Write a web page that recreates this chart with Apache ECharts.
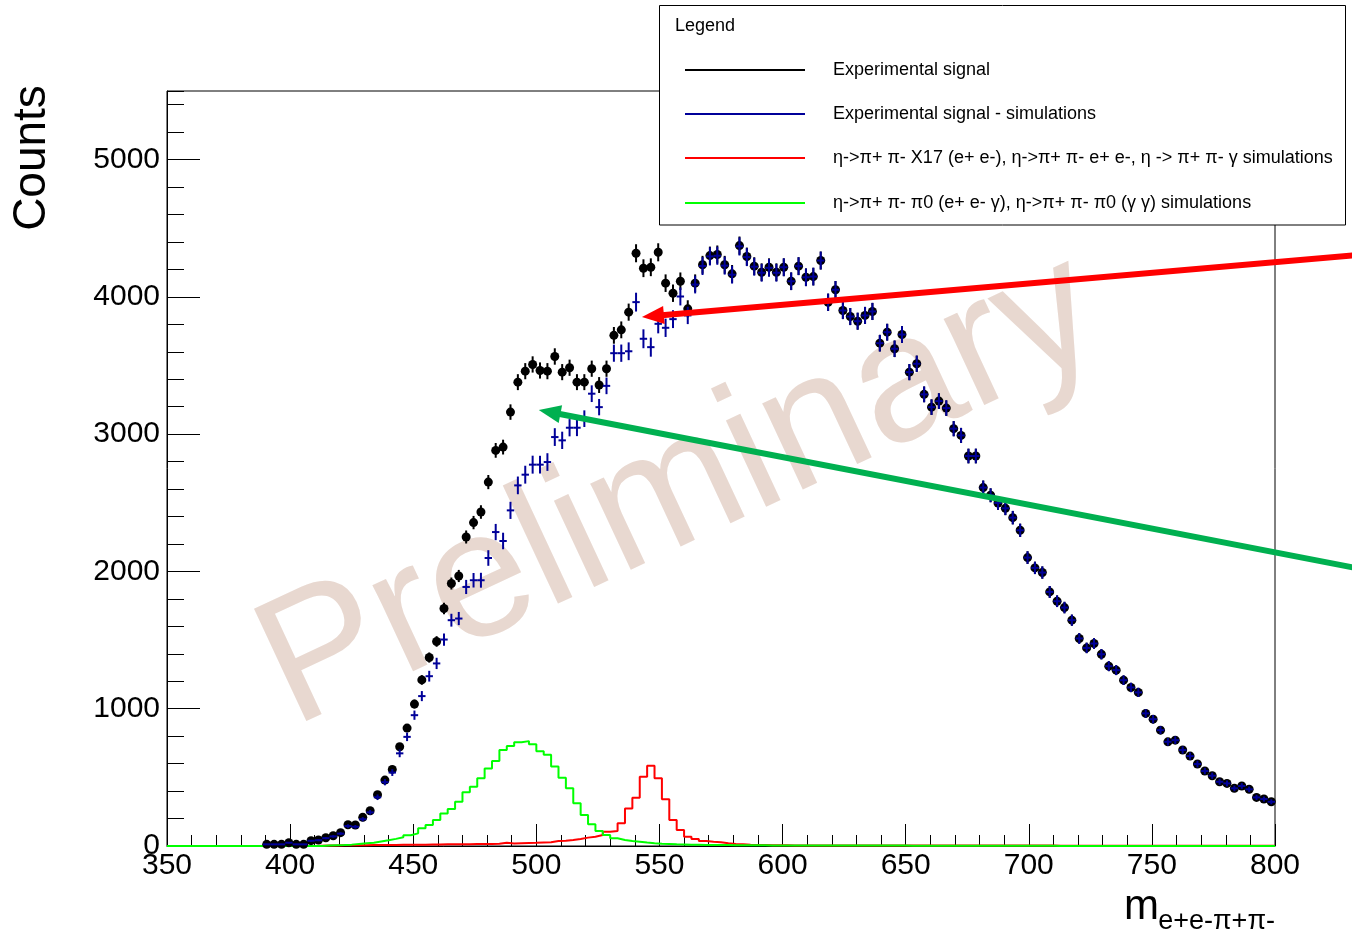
<!DOCTYPE html>
<html>
<head>
<meta charset="utf-8">
<title>m(e+e-π+π-) spectrum</title>
<script src="https://cdn.jsdelivr.net/npm/echarts@6/dist/echarts.min.js"></script>
<style>
  html, body { margin: 0; padding: 0; background: #ffffff; }
  #chart { width: 1352px; height: 937px; }
</style>
</head>
<body>
<div id="chart"></div>
<script>
// ---- binning ----
const BIN_WIDTH = 3;               // MeV per bin
const DATA_FIRST_CENTER = 390.5;   // centre of the first filled data bin
const SIM_FIRST_EDGE = 350;        // low edge of the first simulation bin
const X_RANGE = [350, 800];
const Y_RANGE = [0, 5500];

// ---- measured counts per bin (centres 390.5 ... 798.5) ----
const experimental = [
  12, 12, 12, 24, 12, 12, 39, 44, 60, 75,
  97, 155, 153, 209, 257, 373, 480, 558, 723, 859,
  1034, 1210, 1373, 1490, 1730, 1912, 1967, 2251, 2356, 2433,
  2651, 2882, 2906, 3161, 3379, 3459, 3508, 3464, 3459, 3566,
  3452, 3484, 3379, 3379, 3477, 3358, 3477, 3720, 3760, 3889,
  4318, 4209, 4216, 4325, 4100, 4027, 4114, 3913, 4100, 4234,
  4301, 4309, 4234, 4168, 4374, 4294, 4224, 4180, 4216, 4180,
  4216, 4114, 4224, 4143, 4148, 4265, 3961, 4052, 3901, 3857,
  3823, 3865, 3894, 3663, 3743, 3622, 3726, 3452, 3513, 3290,
  3197, 3241, 3190, 3040, 2991, 2841, 2841, 2611, 2555, 2499,
  2460, 2392, 2300, 2101, 2026, 1992, 1851, 1783, 1737, 1645,
  1512, 1443, 1475, 1397, 1310, 1281, 1208, 1155, 1119, 966,
  924, 844, 759, 771, 699, 655, 597, 546, 512, 468,
  456, 420, 437, 413, 354, 342, 322
];

// ---- measured counts minus simulated backgrounds (same bins) ----
const expMinusSim = [
  12, 12, 12, 24, 12, 12, 38, 42, 57, 70,
  90, 145, 140, 195, 245, 355, 465, 535, 675, 795,
  953, 1092, 1237, 1330, 1504, 1645, 1657, 1887, 1936, 1936,
  2098, 2287, 2222, 2445, 2627, 2705, 2778, 2778, 2797, 2979,
  2955, 3047, 3047, 3113, 3295, 3197, 3352, 3590, 3590, 3604,
  3962, 3695, 3634, 3804, 3775, 3838, 4003, 3865, 4090, 4225,
  4295, 4300, 4228, 4162, 4368, 4290, 4220, 4176, 4212, 4176,
  4216, 4114, 4224, 4143, 4148, 4265, 3961, 4052, 3901, 3857,
  3823, 3865, 3894, 3663, 3743, 3622, 3726, 3452, 3513, 3290,
  3197, 3241, 3190, 3040, 2991, 2841, 2841, 2611, 2555, 2499,
  2460, 2392, 2300, 2101, 2026, 1992, 1851, 1783, 1737, 1645,
  1512, 1443, 1475, 1397, 1310, 1281, 1208, 1155, 1119, 966,
  924, 844, 759, 771, 699, 655, 597, 546, 512, 468,
  456, 420, 437, 413, 354, 342, 322
];

// ---- simulated X17 / e+e- / γ channels (bins from 350, width 3) ----
const simX17 = [
  0, 0, 0, 0, 0, 0, 0, 0, 0, 0,
  0, 0, 0, 0, 0, 0, 0, 0, 0, 0,
  2, 3, 4, 5, 5, 6, 6, 7, 7, 8,
  8, 9, 9, 10, 10, 11, 11, 12, 12, 13,
  13, 14, 14, 15, 16, 24, 18, 20, 22, 23,
  25, 27, 36, 39, 44, 51, 61, 68, 80, 104,
  109, 165, 274, 352, 504, 584, 493, 340, 189, 116,
  68, 51, 36, 31, 27, 20, 15, 12, 9, 8,
  7, 6, 5, 5, 4, 4, 4, 4, 4, 4,
  4, 4, 4, 4, 4, 4, 4, 4, 4, 4,
  3, 3, 3, 3, 3, 3, 3, 3, 3, 3,
  3, 3, 3, 3, 3, 3, 3, 3, 3, 3,
  2, 2, 2, 2, 2, 2, 2, 2, 2, 2,
  2, 2, 2, 2, 2, 2, 2, 2, 2, 2,
  2, 2, 2, 2, 2, 2, 2, 2, 2, 2
];

// ---- simulated π0 channels (bins from 350, width 3) ----
const simPi0 = [
  0, 0, 0, 0, 0, 0, 0, 0, 0, 0,
  0, 0, 0, 0, 0, 0, 0, 0, 0, 0,
  0, 3, 5, 7, 10, 15, 20, 24, 33, 42,
  52, 63, 78, 92, 130, 153, 189, 236, 269, 323,
  391, 432, 493, 565, 619, 699, 728, 755, 764, 742,
  690, 665, 580, 497, 420, 311, 226, 158, 109, 80,
  56, 44, 36, 31, 25, 20, 16, 14, 12, 11,
  10, 9, 8, 8, 7, 7, 6, 6, 5, 5,
  5, 4, 4, 4, 4, 4, 4, 4, 4, 4,
  3, 3, 3, 3, 3, 3, 3, 3, 3, 3,
  2, 2, 2, 2, 2, 2, 2, 2, 2, 2,
  1, 1, 1, 1, 1, 1, 1, 1, 1, 1,
  0, 0, 0, 0, 0, 0, 0, 0, 0, 0,
  0, 0, 0, 0, 0, 0, 0, 0, 0, 0,
  0, 0, 0, 0, 0, 0, 0, 0, 0, 0
];

// ---- texts ----
const yTitle = 'Counts';
const xTitleMain = 'm';
const xTitleSub = 'e+e-π+π-';
const legendHeader = 'Legend';
const legendLabels = [
  'Experimental signal',
  'Experimental signal - simulations',
  'η->π+ π- X17 (e+ e-), η->π+ π- e+ e-, η -> π+ π- γ simulations',
  'η->π+ π- π0 (e+ e- γ), η->π+ π- π0 (γ γ) simulations'
];
const watermarkText = 'Preliminary';

// annotation arrows, given in axis units (tail -> head)
const annotationArrows = [
  { color: '#ff0000', from: [835, 4307], to: [542.9, 3854] },
  { color: '#00b050', from: [835, 2018], to: [501.0, 3177] }
];

// ---- styling ----
const FONT = '"Liberation Sans", Arial, Helvetica, sans-serif';
const COL_EXP = '#000000';
const COL_SUB = '#000099';
const COL_X17 = '#ff0000';
const COL_PI0 = '#00ff00';
const legendColors = [COL_EXP, COL_SUB, COL_X17, COL_PI0];

// ---- derived series data ----
function simIndex(center) {
  return Math.round((center - BIN_WIDTH / 2 - SIM_FIRST_EDGE) / BIN_WIDTH);
}
const expPoints = experimental.map((v, i) => {
  const c = DATA_FIRST_CENTER + i * BIN_WIDTH;
  return [c, v, Math.sqrt(v)];
});
const subPoints = expMinusSim.map((v, i) => {
  const c = DATA_FIRST_CENTER + i * BIN_WIDTH;
  const k = simIndex(c);
  const err = Math.sqrt(experimental[i] + (simX17[k] || 0) + (simPi0[k] || 0));
  return [c, v, err];
});
function stepPoints(counts) {
  const pts = counts.map((v, i) => [SIM_FIRST_EDGE + i * BIN_WIDTH, v]);
  pts.push([SIM_FIRST_EDGE + counts.length * BIN_WIDTH, counts[counts.length - 1]]);
  return pts;
}

const chart = echarts.init(document.getElementById('chart'), null, { renderer: 'canvas' });

function renderExp(params, api) {
  const x = api.value(0), y = api.value(1), e = api.value(2);
  const c = api.coord([x, y]);
  const hi = api.coord([x, y + e]);
  const lo = api.coord([x, Math.max(0, y - e)]);
  return {
    type: 'group',
    children: [
      { type: 'line', shape: { x1: c[0], y1: hi[1], x2: c[0], y2: lo[1] },
        style: { stroke: COL_EXP, lineWidth: 2 } },
      { type: 'circle', shape: { cx: c[0], cy: c[1], r: 4.5 },
        style: { fill: COL_EXP } }
    ]
  };
}
function renderSub(params, api) {
  const x = api.value(0), y = api.value(1), e = api.value(2);
  const c = api.coord([x, y]);
  const hi = api.coord([x, y + e]);
  const lo = api.coord([x, Math.max(0, y - e)]);
  const l = api.coord([x - BIN_WIDTH / 2, y]);
  const r = api.coord([x + BIN_WIDTH / 2, y]);
  return {
    type: 'group',
    children: [
      { type: 'line', shape: { x1: c[0], y1: hi[1], x2: c[0], y2: lo[1] },
        style: { stroke: COL_SUB, lineWidth: 2 } },
      { type: 'line', shape: { x1: l[0], y1: c[1], x2: r[0], y2: c[1] },
        style: { stroke: COL_SUB, lineWidth: 2 } }
    ]
  };
}

const axisText = { fontSize: 30, color: '#000', fontFamily: FONT };

const option = {
  animation: false,
  backgroundColor: '#ffffff',
  grid: {
    left: 167, top: 91, right: 77, bottom: 91,
    show: true, borderColor: '#000', borderWidth: 1,
    backgroundColor: 'transparent',
    containLabel: false, outerBoundsMode: 'none'
  },
  xAxis: [{
    type: 'value', min: X_RANGE[0], max: X_RANGE[1], interval: 50,
    axisLine: { show: true, onZero: false, lineStyle: { color: '#000', width: 1 } },
    axisTick: { show: true, inside: true, length: 22, lineStyle: { color: '#000', width: 1 } },
    minorTick: { show: true, splitNumber: 5, length: 11, lineStyle: { color: '#000', width: 1 } },
    axisLabel: Object.assign({ margin: 5, showMinLabel: true, showMaxLabel: true }, axisText),
    splitLine: { show: false }, minorSplitLine: { show: false }
  }],
  yAxis: [{
    type: 'value', min: Y_RANGE[0], max: Y_RANGE[1], interval: 1000, position: 'left',
    axisLine: { show: true, onZero: false, lineStyle: { color: '#000', width: 1 } },
    axisTick: { show: true, inside: true, length: 33, lineStyle: { color: '#000', width: 1 } },
    axisLabel: Object.assign({
      margin: 7, showMaxLabel: false,
      formatter: v => (v % 1000 === 0 ? String(v) : '')
    }, axisText),
    splitLine: { show: false }
  }, {
    type: 'value', min: Y_RANGE[0], max: Y_RANGE[1], interval: 200, position: 'left',
    axisLine: { show: false },
    axisTick: { show: true, inside: true, length: 17, lineStyle: { color: '#000', width: 1 } },
    axisLabel: { show: false },
    splitLine: { show: false }
  }],
  series: [
    {
      name: legendLabels[2], type: 'line', data: stepPoints(simX17), step: 'end',
      symbol: 'none', showSymbol: false, silent: true, z: 3,
      lineStyle: { color: COL_X17, width: 2 }
    },
    {
      name: legendLabels[3], type: 'line', data: stepPoints(simPi0), step: 'end',
      symbol: 'none', showSymbol: false, silent: true, z: 3,
      lineStyle: { color: COL_PI0, width: 2 }
    },
    {
      name: legendLabels[0], type: 'custom', data: expPoints, renderItem: renderExp,
      encode: { x: 0, y: 1 }, silent: true, z: 4
    },
    {
      name: legendLabels[1], type: 'custom', data: subPoints, renderItem: renderSub,
      encode: { x: 0, y: 1 }, silent: true, z: 5
    }
  ],
  graphic: []
};

chart.setOption(option);

// ---- overlay: watermark, axis titles, legend box, arrows ----
function buildGraphics() {
  const g = [];
  g.push({
    type: 'text', x: 680, y: 492, rotation: 25 * Math.PI / 180, z: 0, silent: true,
    style: { text: watermarkText, font: '180px ' + FONT, fill: '#e8d8d0',
             align: 'center', verticalAlign: 'middle' }
  });
  g.push({
    type: 'text', x: 32, y: 158, rotation: Math.PI / 2, z: 50, silent: true,
    style: { text: yTitle, font: '46px ' + FONT, fill: '#000',
             align: 'center', verticalAlign: 'middle' }
  });
  g.push({
    type: 'text', x: 1159, y: 907, z: 50, silent: true,
    style: { text: xTitleMain, font: '42px ' + FONT, fill: '#000',
             align: 'right', verticalAlign: 'middle' }
  });
  g.push({
    type: 'text', x: 1275, y: 922, z: 50, silent: true,
    style: { text: xTitleSub, font: '27px ' + FONT, fill: '#000',
             align: 'right', verticalAlign: 'middle' }
  });

  // legend box
  g.push({
    type: 'rect', z: 60, silent: true,
    shape: { x: 659.5, y: 5.5, width: 686, height: 219.5 },
    style: { fill: '#ffffff', stroke: '#000', lineWidth: 1 }
  });
  g.push({
    type: 'text', x: 675, y: 26, z: 61, silent: true,
    style: { text: legendHeader, font: '18px ' + FONT, fill: '#000',
             align: 'left', verticalAlign: 'middle' }
  });
  const rowY = [70, 114, 158, 203];
  legendLabels.forEach((label, i) => {
    g.push({
      type: 'line', z: 61, silent: true,
      shape: { x1: 685, y1: rowY[i], x2: 805, y2: rowY[i] },
      style: { stroke: legendColors[i], lineWidth: 2 }
    });
    g.push({
      type: 'text', x: 833, y: rowY[i], z: 61, silent: true,
      style: { text: label, font: '18px ' + FONT, fill: '#000',
               align: 'left', verticalAlign: 'middle' }
    });
  });

  // arrows
  annotationArrows.forEach(a => {
    const p0 = chart.convertToPixel({ seriesIndex: 2 }, a.from);
    const p1 = chart.convertToPixel({ seriesIndex: 2 }, a.to);
    const dx = p1[0] - p0[0], dy = p1[1] - p0[1];
    const len = Math.hypot(dx, dy);
    const ux = dx / len, uy = dy / len;
    const headLen = 22, headHalf = 9;
    const bx = p1[0] - ux * headLen, by = p1[1] - uy * headLen;
    g.push({
      type: 'line', z: 70, silent: true,
      shape: { x1: p0[0], y1: p0[1], x2: bx + ux * 2, y2: by + uy * 2 },
      style: { stroke: a.color, lineWidth: 6 }
    });
    g.push({
      type: 'polygon', z: 70, silent: true,
      shape: { points: [
        [p1[0], p1[1]],
        [bx - uy * headHalf, by + ux * headHalf],
        [bx + uy * headHalf, by - ux * headHalf]
      ] },
      style: { fill: a.color }
    });
  });
  return g;
}

chart.setOption({ graphic: buildGraphics() });
</script>
</body>
</html>
